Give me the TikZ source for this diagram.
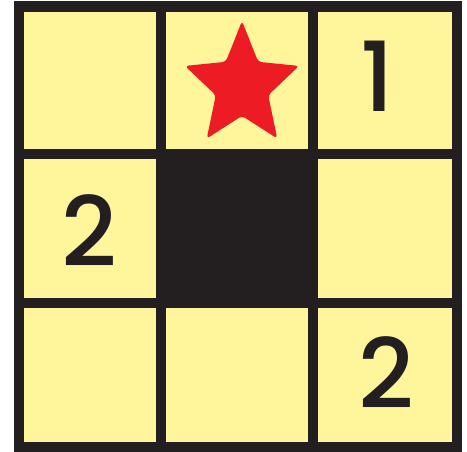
\documentclass[tikz,border=0pt]{standalone}
\usepackage{fontspec}
\newfontfamily\cluefont{Poppins Medium}
\definecolor{gridink}{RGB}{35,31,32}
\definecolor{gridcell}{RGB}{255,245,155}
\definecolor{gridstar}{RGB}{237,28,36}
\tikzset{
  cellfill/.style={fill=gridcell},
  blockfill/.style={fill=gridink},
  cluedigit/.style={text=gridink, inner sep=0pt,
    font=\cluefont\fontsize{55}{55}\selectfont},
  starmark/.style={fill=gridstar, rounded corners=2pt},
}

\begin{document}
\begin{tikzpicture}[x=0.02cm, y=-0.02cm]
  \useasboundingbox (0,0) rectangle (467,452);
  \fill[blockfill] (14,1) rectangle (462,452);
  % top row
  \fill[cellfill] (24,12) rectangle (156,149);
  \fill[cellfill] (166,12) rectangle (308,149);
  \fill[cellfill] (318,12) rectangle (452,149);
  % middle row, centre square stays black
  \fill[cellfill] (24,159) rectangle (156,298);
  \fill[cellfill] (318,159) rectangle (452,298);
  % bottom row
  \fill[cellfill] (24,308) rectangle (156,442);
  \fill[cellfill] (166,308) rectangle (308,442);
  \fill[cellfill] (318,308) rectangle (452,442);
  \begin{scope}[shift={(242,86)}, x=1.2cm, y=1.3cm]
    \fill[starmark] (90:1) \foreach \k in {1,...,9} {
      -- ({90+36*\k}:{ifthenelse(isodd(\k),0.46,1)})} -- cycle;
  \end{scope}
  \node[cluedigit] (clueA) at (377,76) {1};
  \node[cluedigit] (clueB) at (89,231) {2};
  \node[cluedigit] (clueC) at (386,373) {2};
\end{tikzpicture}
\end{document}
